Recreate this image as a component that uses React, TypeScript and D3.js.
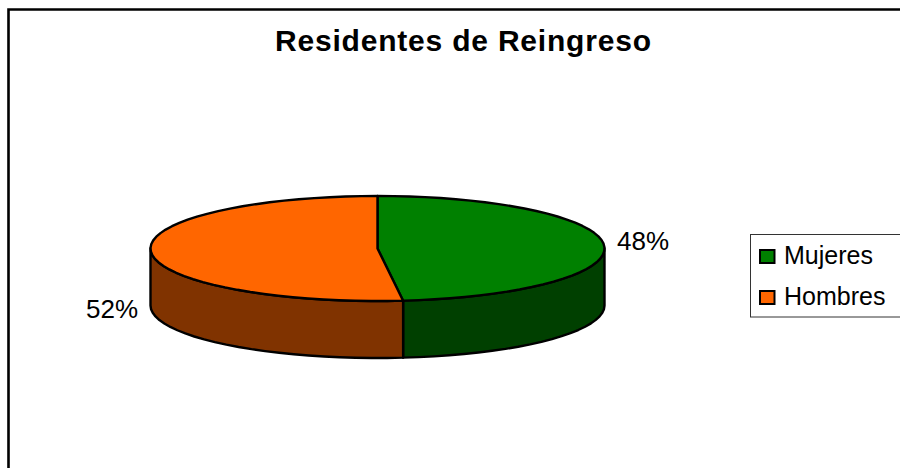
import React from "react";
import * as d3 from "d3";

const categories = ["Mujeres", "Hombres"];
const values = [48.2, 51.8];
const topColors = ["#008000", "#FF6600"];
const sideColors = ["#004000", "#803300"];
const titleText = "Residentes de Reingreso";

const W = 900, H = 468;
const cx = 377.5, cy = 248.5, rx = 227, ry = 52.5, depth = 57;

const pieAngles = d3.pie<number>().sort(null)(values);
const px = (a: number) => cx + rx * Math.sin(a);
const py = (a: number) => cy - ry * Math.cos(a);
const samples = (a0: number, a1: number) => {
  const n = Math.max(2, Math.ceil((a1 - a0) * 14));
  return d3.range(n + 1).map((i) => a0 + ((a1 - a0) * i) / n);
};
const line = d3.line<[number, number]>();

const topPath = (a0: number, a1: number) =>
  line([[cx, cy], ...samples(a0, a1).map((a) => [px(a), py(a)] as [number, number])]) + "Z";

const sidePath = (a0: number, a1: number) => {
  const s = Math.max(a0, Math.PI / 2);
  const e = Math.min(a1, (3 * Math.PI) / 2);
  if (e <= s) return null;
  const arc = samples(s, e);
  const up = arc.map((a) => [px(a), py(a)] as [number, number]);
  const down = arc.slice().reverse().map((a) => [px(a), py(a) + depth] as [number, number]);
  return line([...up, ...down]) + "Z";
};

const font = "'Liberation Sans', Arial, sans-serif";

export default function App() {
  return (
    <svg width={W} height={H} viewBox={`0 0 ${W} ${H}`} style={{ position: "absolute", left: 0, top: 0, background: "#fff" }}>
      <path d={`M${W},9.5H8.5V${H}`} fill="none" stroke="#000" strokeWidth={2.6} />
      <text x={275} y={51} textLength={376} lengthAdjust="spacing" fontFamily={font} fontWeight="bold" fontSize={30} fill="#000">{titleText}</text>
      {pieAngles.map((d, i) => {
        const p = sidePath(d.startAngle, d.endAngle);
        return p ? <path key={i} d={p} fill={sideColors[i]} stroke="#000" strokeWidth={2.4} strokeLinejoin="round" /> : null;
      })}
      {pieAngles.map((d, i) => (
        <path key={i} d={topPath(d.startAngle, d.endAngle)} fill={topColors[i]} stroke="#000" strokeWidth={2.4} strokeLinejoin="round" />
      ))}
      <text x={643} y={250} textAnchor="middle" fontFamily={font} fontSize={26} fill="#000">{Math.round(values[0])}%</text>
      <text x={112} y={318} textAnchor="middle" fontFamily={font} fontSize={26} fill="#000">{Math.round(values[1])}%</text>
      <rect x={750.5} y={234.5} width={160} height={82.5} fill="#fff" stroke="#333" strokeWidth={1} />
      {categories.map((c, i) => (
        <g key={c}>
          <rect x={760} y={250 + i * 41} width={14.5} height={13} fill={topColors[i]} stroke="#000" strokeWidth={2} />
          <text x={784} y={264 + i * 41} fontFamily={font} fontSize={25} fill="#000">{c}</text>
        </g>
      ))}
    </svg>
  );
}
